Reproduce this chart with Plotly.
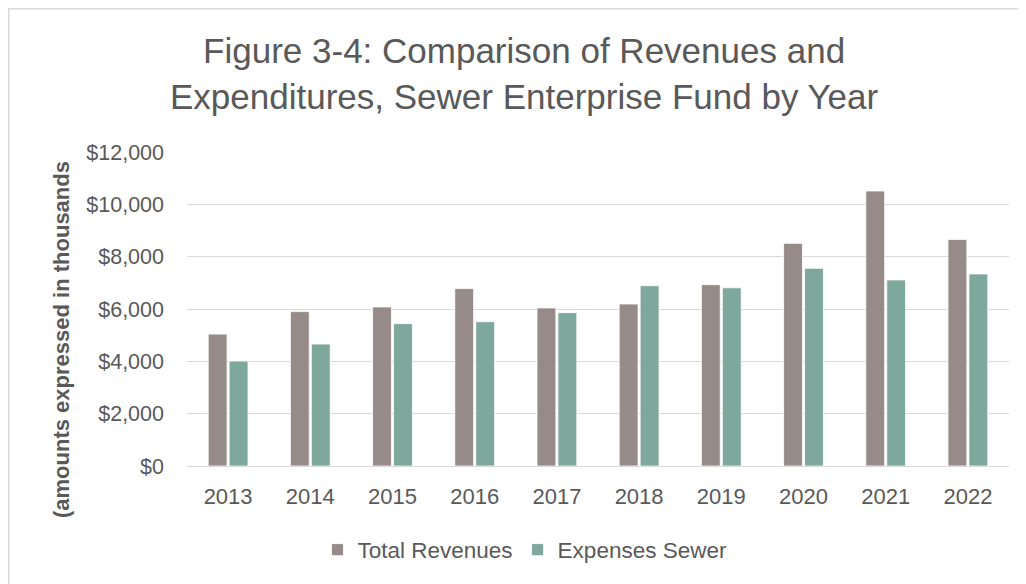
import plotly.graph_objects as go

years = ["2013", "2014", "2015", "2016", "2017", "2018", "2019", "2020", "2021", "2022"]
total_revenues = [5040, 5900, 6080, 6780, 6040, 6190, 6930, 8510, 10510, 8660]
expenses_sewer = [4010, 4660, 5440, 5515, 5860, 6890, 6810, 7555, 7110, 7340]
y_ticks = [0, 2000, 4000, 6000, 8000, 10000, 12000]
y_tick_labels = ["$0", "$2,000", "$4,000", "$6,000", "$8,000", "$10,000", "$12,000"]

REV_COLOR = "#978B89"
EXP_COLOR = "#7DA89B"
TEXT_COLOR = "#595959"
GRID_COLOR = "#D9D9D9"
FONT = "Liberation Sans, Arial, sans-serif"

# the page body has an 8px default margin; lay out in page pixels minus that
OFF = 8
W, H = 1026 - OFF, 584 - OFF
L = 187 - OFF
T = 152 - OFF
R = W - (1009 - OFF)
B = H - (466 - OFF)
pw, ph = W - L - R, H - T - B


def px_x(x):
    return (x - OFF - L) / pw


def px_y(y):
    return (H - B - (y - OFF)) / ph


fig = go.Figure()
fig.add_trace(go.Bar(x=years, y=total_revenues, name="Total Revenues",
                     marker=dict(color=REV_COLOR, line=dict(color="white", width=0.8))))
fig.add_trace(go.Bar(x=years, y=expenses_sewer, name="Expenses Sewer",
                     marker=dict(color=EXP_COLOR, line=dict(color="white", width=0.8))))

fig.update_layout(
    width=W, height=H,
    margin=dict(l=L, r=R, t=T, b=B, autoexpand=False),
    paper_bgcolor="white", plot_bgcolor="white",
    barmode="group", bargap=0.49, bargroupgap=0.1,
    font=dict(family=FONT, color=TEXT_COLOR),
    showlegend=True,
    legend=dict(orientation="h", x=px_x(525), xanchor="center",
                y=px_y(550), yanchor="middle",
                font=dict(size=22.5, color=TEXT_COLOR),
                itemclick=False, bgcolor="rgba(0,0,0,0)"),
    xaxis=dict(showgrid=False, showline=False, ticks="",
               tickfont=dict(size=22, color=TEXT_COLOR),
               ticklabelstandoff=15),
    yaxis=dict(range=[0, 12000], tickvals=y_ticks, ticktext=y_tick_labels,
               showgrid=True, gridcolor=GRID_COLOR, gridwidth=1.3,
               zeroline=True, zerolinecolor=GRID_COLOR, zerolinewidth=1.3,
               showline=False, ticks="",
               tickfont=dict(size=21.5, color=TEXT_COLOR),
               ticklabelstandoff=22),
)

fig.add_annotation(
    text="Figure 3-4: Comparison of Revenues and<br>Expenditures, Sewer Enterprise Fund by Year",
    xref="paper", yref="paper", x=px_x(524), y=px_y(29), xanchor="center", yanchor="top",
    showarrow=False, font=dict(size=35, color=TEXT_COLOR, family=FONT),
)

fig.add_annotation(
    text="<b>(amounts expressed in thousands</b>",
    xref="paper", yref="paper", x=px_x(61), y=px_y(340), xanchor="center", yanchor="middle",
    textangle=-90, showarrow=False, font=dict(size=22, color=TEXT_COLOR, family=FONT),
)

fig.add_shape(type="rect", xref="paper", yref="paper",
              x0=px_x(8.8), x1=px_x(1100), y0=px_y(700), y1=px_y(8.8),
              line=dict(color=GRID_COLOR, width=1.5), fillcolor="rgba(0,0,0,0)", layer="below")

fig.write_html("out.html")
